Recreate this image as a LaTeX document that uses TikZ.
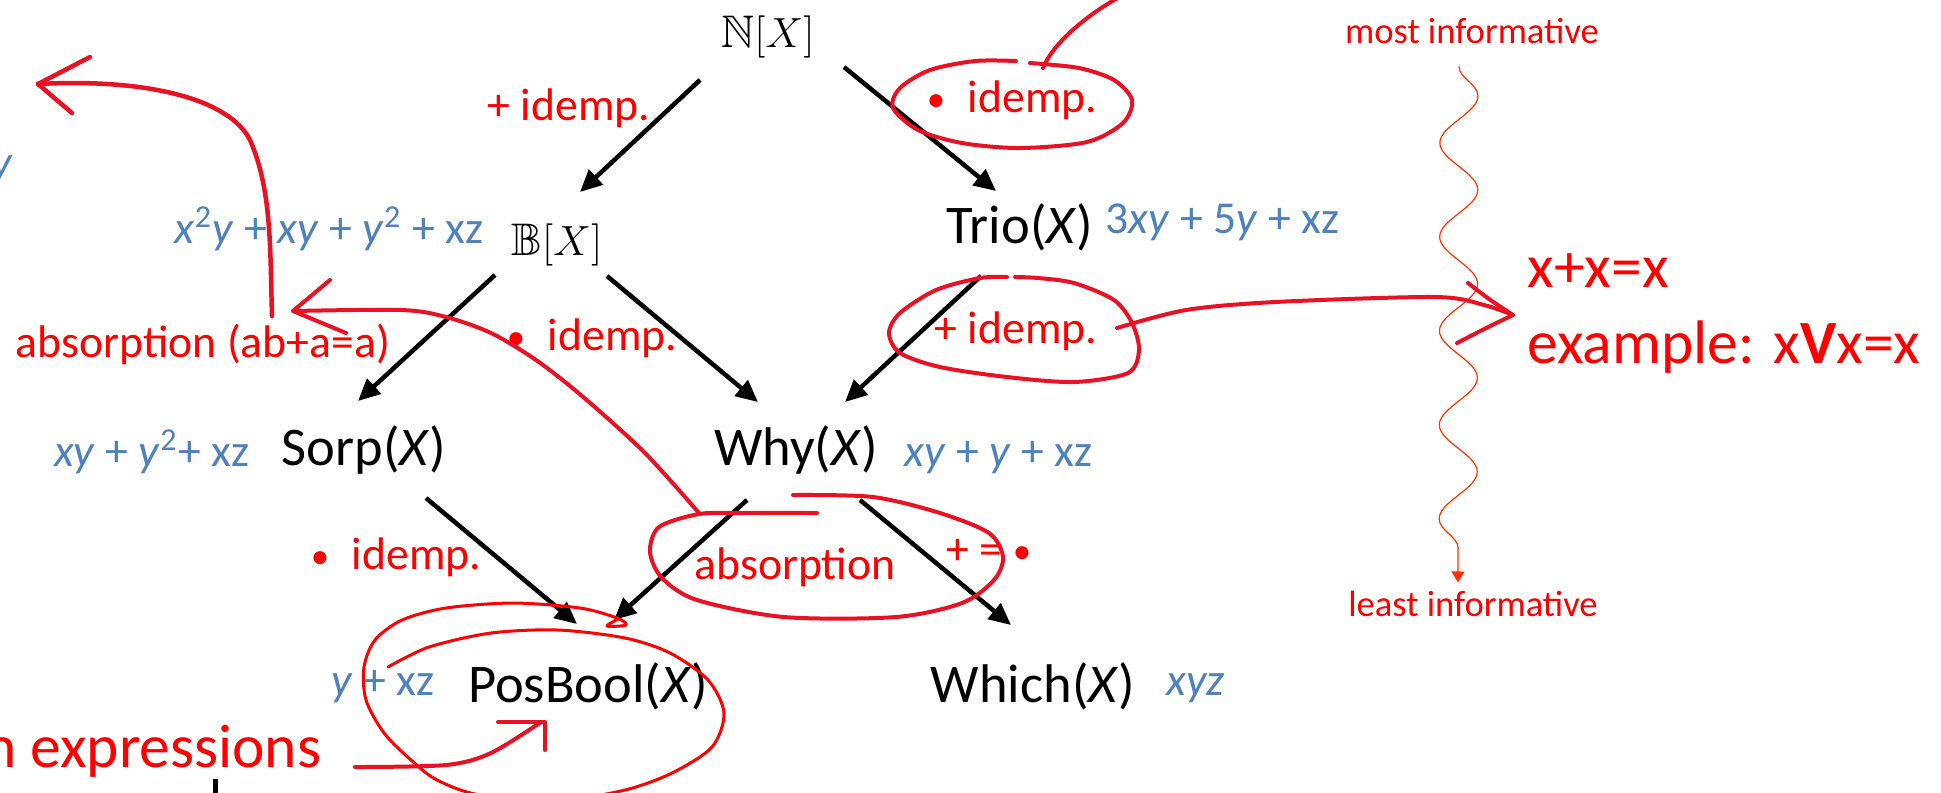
\documentclass[tikz,border=0pt]{standalone}
\usepackage{fontspec}
\setmainfont{Carlito}
\usepackage{amssymb}
\usetikzlibrary{arrows.meta,decorations.pathmorphing}

\definecolor{inkred}{HTML}{E81224}
\definecolor{polyblue}{HTML}{4F81BD}
\definecolor{waveorange}{HTML}{FF3300}

% small product bullet
\newcommand{\prodbullet}{{\fontsize{10.5}{12}\selectfont\raisebox{0.3pt}{•}}}

\begin{document}
\begin{tikzpicture}[x=0.1mm,y=-0.1mm,
    semiring/.style={font=\fontsize{15.5}{18}\selectfont, inner sep=0pt},
    mathring/.style={font=\fontsize{13}{16}\selectfont, inner sep=0pt},
    poly/.style={text=polyblue, font=\fontsize{13}{16}\selectfont, inner sep=0pt},
    law/.style={text=red, font=\fontsize{13}{16}\selectfont, inner sep=0pt},
    info/.style={text=red, font=\fontsize{10.4}{12}\selectfont, inner sep=0pt},
    hand/.style={text=red, font=\fontsize{17.5}{21}\selectfont, inner sep=0pt},
    arr/.style={-{Triangle[length=2.2mm,width=2mm]}, line width=0.45mm},
    ink/.style={draw=inkred, line width=0.4mm, line cap=round, line join=round},
    wave/.style={draw=waveorange, line width=0.12mm, -{Triangle[length=1.1mm,width=1.3mm]},
        decorate, decoration={snake, segment length=9.4mm, amplitude=1.9mm, post length=1.5mm}}]

    \useasboundingbox (0,0) rectangle (1941,792);
    \clip (0,0) rectangle (1941,792);

    % Semirings
    \node[mathring, anchor=base] (N) at (768,47) {$\mathbb{N}[X]$};
    \node[mathring, anchor=base] (B) at (557,255) {$\mathbb{B}[X]$};
    \node[semiring, anchor=base] (Trio) at (1020,243) {Trio(\textit{X})};
    \node[semiring, anchor=base] (Sorp) at (364,465) {Sorp(\textit{X})};
    \node[semiring, anchor=base] (Why) at (796,465) {Why(\textit{X})};
    \node[semiring, anchor=base] (PosBool) at (588,702) {PosBool(\textit{X})};
    \node[semiring, anchor=base] (Which) at (1033,702) {Which(\textit{X})};

    % Example polynomials
    \node[poly, anchor=base east] (pB) at (484,243) {\textit{x}\textsuperscript{2}\textit{y} + \textit{xy} + \textit{y}\textsuperscript{2} + xz};
    \node[poly, anchor=base west] (pTrio) at (1105,233) {3\textit{xy} + 5\textit{y} + xz};
    \node[poly, anchor=base east] (pSorp) at (250,466) {\textit{xy} + \textit{y}\textsuperscript{2}+ xz};
    \node[poly, anchor=base west] (pWhy) at (904,466) {\textit{xy} + \textit{y} + xz};
    \node[poly, anchor=base east] (pPos) at (435,695) {\textit{y} + xz};
    \node[poly, anchor=base west] (pWhich) at (1166,695) {\textit{xyz}};
    \node[poly, anchor=base east] (pCut) at (14,177) {\textit{y}};

    % Order arrows
    \draw[arr] ([shift={(-68,33)}]N.base) -- ([shift={(23,-63)}]B.base);
    \draw[arr] ([shift={(76,20)}]N.base) -- ([shift={(-24,-52)}]Trio.base);
    \draw[arr] ([shift={(-62,20)}]B.base) -- ([shift={(-6,-64)}]Sorp.base);
    \draw[arr] ([shift={(50,21)}]B.base) -- ([shift={(-38,-63)}]Why.base);
    \draw[arr] ([shift={(-39,33)}]Trio.base) -- ([shift={(49,-63)}]Why.base);
    \draw[arr] ([shift={(62,33)}]Sorp.base) -- ([shift={(-11,-78)}]PosBool.base);
    \draw[arr] ([shift={(-49,35)}]Why.base) -- ([shift={(26,-82)}]PosBool.base);
    \draw[arr] ([shift={(64,35)}]Why.base) -- ([shift={(-22,-77)}]Which.base);

    % Laws on the arrows
    \node[law] (lNB) at (569,108) {+ idemp.};
    \node[law] (lNT) at (1012,100) {\prodbullet\enspace idemp.};
    \node[law] (lBW) at (592,338) {\prodbullet\enspace idemp.};
    \node[law] (lTW) at (1016,331) {+ idemp.};
    \node[law] (lAbs) at (203,344) {absorption (ab+a=a)};
    \node[law] (lSP) at (396,557) {\prodbullet\enspace idemp.};
    \node[law] (lWP) at (795,567) {absorption};
    \node[law] (lWW) at (989,552) {+ = \prodbullet};

    % Informativeness scale
    \node[info] (most) at (1472,31) {most informative};
    \node[info] (least) at (1473,604) {least informative};
    \draw[wave] ([shift={(-13,22)}]most.south) -- ([shift={(-15,-8)}]least.north);

    % Handwritten notes
    \node[hand, anchor=base west] (hIdem) at (1527,287) {x+x=x};
    \node[hand, anchor=base west] (hEx) at (1527,363) {example: x\textbf{V}x=x};
    \node[hand, anchor=base east] (hExpr) at (322,767) {n expressions};
    \draw[line width=0.5mm] (215,779) -- (215,800);

    % Ink: absorption law up to the left
    \draw[ink, line width=0.45mm] (272,316) .. controls (270,250) and (272,190) .. (250,140)
        .. controls (230,100) and (150,78) .. (38,84);
    \draw[ink, line width=0.45mm] (90,57) -- (38,84) -- (72,113);

    % Ink: absorption under Why back to the law
    \draw[ink] plot[smooth] coordinates {(699,513) (644,452) (582,396) (536,360) (491,333) (446,317) (402,310) (293,311)};
    \draw[ink] (330,280) -- (293,311) -- (346,333);
    \draw[ink] plot[smooth] coordinates {(817,513) (740,513) (699,514) (659,527) (650,552) (662,578)
        (697,600) (784,617) (896,617) (962,603) (994,580) (1003,557) (989,533) (940,513) (873,497) (793,495)};

    % Ink: loop round the upper idempotence
    \draw[ink] plot[smooth] coordinates {(1016,61) (975,61) (930,70) (900,88) (893,108) (918,130)
        (962,143) (1020,148) (1087,142) (1123,123) (1132,100) (1114,80) (1079,68) (1030,63)};
    \draw[ink] (1043,68) .. controls (1052,45) and (1085,15) .. (1125,-6);

    % Ink: loop round the lower idempotence and arrow to the example
    \draw[ink] plot[smooth] coordinates {(1007,277) (980,278) (936,290) (900,313) (889,333) (900,353)
        (940,367) (1007,377) (1074,382) (1128,373) (1139,350) (1132,323) (1114,300) (1074,283) (1038,278) (1015,277)};
    \draw[ink] plot[smooth] coordinates {(1117,328) (1186,310) (1275,302) (1435,297) (1484,305) (1513,315)};
    \draw[ink] (1468,283) .. controls (1490,300) .. (1513,315) .. controls (1490,326) .. (1457,343);

    % Ink: spiral round PosBool
    \draw[ink, draw=red, line width=0.3mm] plot[smooth] coordinates {(388,667) (429,647) (491,633) (558,630)
        (625,638) (670,653) (708,680) (724,713) (712,747) (672,773) (625,790) (560,800) (480,795) (437,780)
        (411,760) (384,733) (366,700) (364,667) (375,640) (402,620) (446,608) (513,603) (580,608) (617,618)
        (626,625) (607,626) (618,619)};
    \draw[ink] plot[smooth] coordinates {(355,767) (446,765) (491,753) (541,722)};
    \draw[ink] (498,722) -- (545,722) -- (545,750);
\end{tikzpicture}
\end{document}
